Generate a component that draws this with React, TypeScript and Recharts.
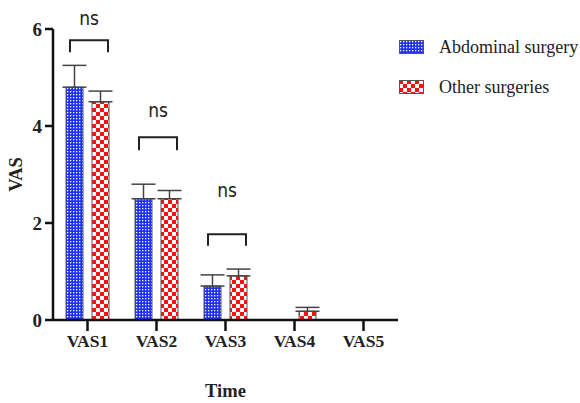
import { Bar, BarChart, ErrorBar, XAxis, YAxis } from "recharts";

const categories = ["VAS1", "VAS2", "VAS3", "VAS4", "VAS5"];
const abdominal = [4.8, 2.5, 0.7, 0, 0];
const abdominalErr = [0.45, 0.3, 0.23, 0, 0];
const other = [4.5, 2.5, 0.91, 0.18, 0];
const otherErr = [0.22, 0.17, 0.14, 0.08, 0];
// significance brackets: top of bracket, bottom of legs, ns label height
const bracketTop = [5.77, 3.77, 1.77, null, null];
const bracketLeg = [5.52, 3.5, 1.53, null, null];
const nsLevel = [6.2, 4.3, 2.65, null, null];
const yTicks = [0, 2, 4, 6];
const seriesNames = ["Abdominal surgery", "Other surgeries"];

const data = categories.map((name, i) => ({
  name,
  abdominal: abdominal[i],
  abdominalErr: [0, abdominalErr[i]],
  other: other[i],
  otherErr: [0, otherErr[i]]
}));

const serif = "'Liberation Serif', 'Times New Roman', serif";
const BAR_SIZE = 17;
const BAR_GAP = 9;

const Bracket = (props: any) => {
  const { x, y, width, height, value, index } = props;
  const top = bracketTop[index];
  if (top == null || !value) return null;
  const base = y + height;
  const ppu = height / value;
  const yOf = (v: number) => base - v * ppu;
  const x1 = x - BAR_GAP - width + 4;
  const x2 = x + width - 1;
  const yt = yOf(top);
  const yl = yOf(bracketLeg[index] as number);
  return (
    <g>
      <path d={`M${x1},${yl} L${x1},${yt} L${x2},${yt} L${x2},${yl}`} fill="none" stroke="#222" strokeWidth={2} />
      <text x={(x1 + x2) / 2} y={yOf(nsLevel[index] as number)} textAnchor="middle" dominantBaseline="middle" fontFamily="'Liberation Sans Narrow', 'DejaVu Sans Condensed', sans-serif" fontSize={19} fill="#222">
        ns
      </text>
    </g>
  );
};

const LegendBox = () => (
  <div style={{ position: "absolute", top: 27, left: 399, fontFamily: serif, fontSize: 18, color: "#222" }}>
    {seriesNames.map((label, i) => (
      <div key={label} style={{ display: "flex", alignItems: "center", height: 40 }}>
        <svg width={25} height={14} style={{ marginRight: 15 }}>
          <rect x={0.5} y={0.5} width={24} height={13} fill={i === 0 ? "url(#bluePat)" : "url(#redPat)"} stroke="#555" />
        </svg>
        <span>{label}</span>
      </div>
    ))}
  </div>
);

export default function App() {
  return (
    <div style={{ position: "absolute", left: 0, top: 0, width: 580, height: 403, background: "#fff" }}>
      <BarChart
        width={580}
        height={403}
        data={data}
        margin={{ top: 29, right: 182, left: 0, bottom: 0 }}
        barCategoryGap={13}
        barGap={BAR_GAP}
      >
        <defs>
          <pattern id="bluePat" width={3} height={3} patternUnits="userSpaceOnUse">
            <rect width={3} height={3} fill="#1f2fff" />
            <rect x={1} y={1} width={1.3} height={1.3} fill="#ffffff" />
          </pattern>
          <pattern id="redPat" width={8} height={8} patternUnits="userSpaceOnUse">
            <rect width={8} height={8} fill="#ffffff" />
            <rect width={4} height={4} fill="#ff1010" />
            <rect x={4} y={4} width={4} height={4} fill="#ff1010" />
          </pattern>
        </defs>
        <XAxis
          dataKey="name"
          height={83}
          interval={0}
          axisLine={{ stroke: "#111", strokeWidth: 2.5 }}
          tickLine={{ stroke: "#111", strokeWidth: 2.5 }}
          tickSize={11}
          tickMargin={4}
          tick={{ fontFamily: serif, fontSize: 17.5, fontWeight: "bold", fill: "#222" }}
          label={{ value: "Time", position: "insideBottom", offset: 6, fontFamily: serif, fontSize: 18.5, fontWeight: "bold", fill: "#222" }}
        />
        <YAxis
          width={53}
          domain={[0, 6]}
          ticks={yTicks}
          axisLine={{ stroke: "#111", strokeWidth: 2.5 }}
          tickLine={{ stroke: "#111", strokeWidth: 2.5 }}
          tickSize={8}
          tickMargin={3}
          tick={{ fontFamily: serif, fontSize: 19, fontWeight: "bold", fill: "#222" }}
          label={({ viewBox }: any) => (
            <text
              x={18}
              y={viewBox.y + viewBox.height / 2}
              transform={`rotate(-90 18 ${viewBox.y + viewBox.height / 2})`}
              textAnchor="middle"
              dominantBaseline="middle"
              fontFamily={serif}
              fontSize={18.5}
              fontWeight="bold"
              fill="#222"
            >
              VAS
            </text>
          )}
        />
        <Bar dataKey="abdominal" name={seriesNames[0]} fill="url(#bluePat)" stroke="#555" strokeWidth={1} barSize={BAR_SIZE} isAnimationActive={false}>
          <ErrorBar dataKey="abdominalErr" width={12} stroke="#444" strokeWidth={1.5} />
        </Bar>
        <Bar dataKey="other" name={seriesNames[1]} fill="url(#redPat)" stroke="#555" strokeWidth={1} barSize={BAR_SIZE} isAnimationActive={false} label={(p: any) => <Bracket {...p} />}>
          <ErrorBar dataKey="otherErr" width={12} stroke="#444" strokeWidth={1.5} />
        </Bar>
      </BarChart>
      <LegendBox />
    </div>
  );
}
